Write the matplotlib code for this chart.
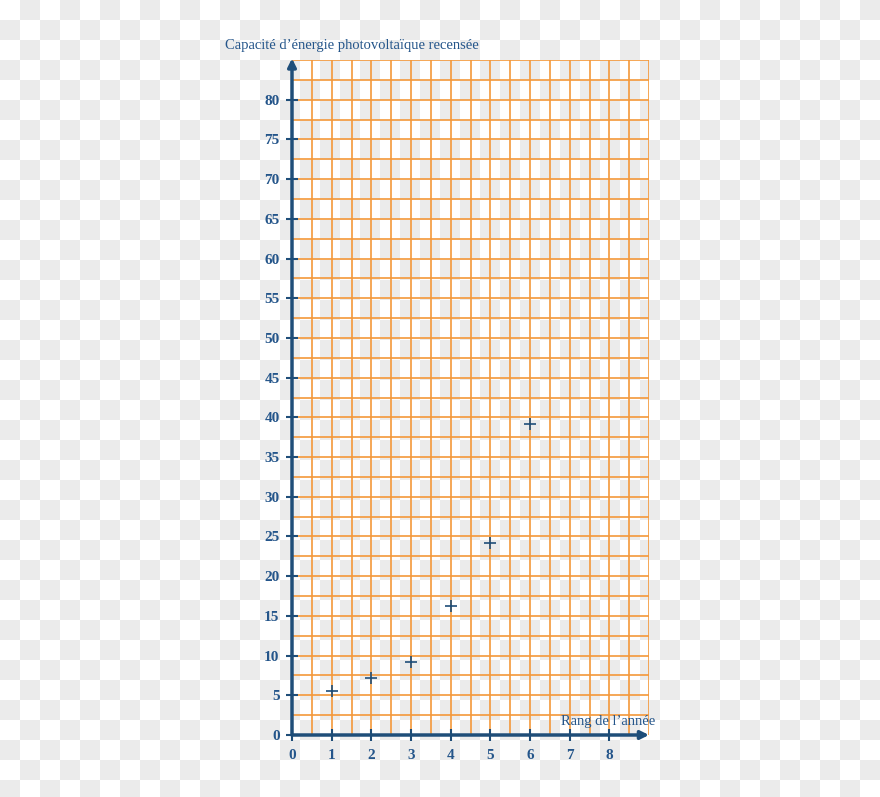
import numpy as np
import matplotlib.pyplot as plt

# données
rang = [1, 2, 3, 4, 5, 6]
capacite = [5.5, 7.2, 9.2, 16.2, 24.2, 39.2]
x_ticks = [0, 1, 2, 3, 4, 5, 6, 7, 8]
y_ticks = [0, 5, 10, 15, 20, 25, 30, 35, 40, 45, 50, 55, 60, 65, 70, 75, 80]

W, H = 880, 797
bleu = '#1f4e79'
bleu_txt = '#24558a'
orange = '#f4983a'

fig = plt.figure(figsize=(W / 100, H / 100), dpi=100)

# fond en damier (aperçu de png transparent)
jj, ii = np.meshgrid(np.arange(W) // 20, np.arange(H) // 20)
damier = np.where((ii + jj) % 2 == 1, 0.922, 1.0)
fig.figimage(np.dstack([damier] * 3), xo=0, yo=0, origin='upper', zorder=-10)

ax = fig.add_axes([292 / W, 62 / H, 357 / W, 675 / H])
ax.patch.set_alpha(0)
ax.set_xlim(0, 9)
ax.set_ylim(0, 85)

# quadrillage orange
for gx in np.arange(0.5, 9.01, 0.5):
    ax.axvline(gx, color=orange, lw=1.2, zorder=1)
for gy in np.arange(2.5, 85.01, 2.5):
    ax.axhline(gy, color=orange, lw=1.2, zorder=1)

for s in ax.spines.values():
    s.set_visible(False)

# axes fléchés
ax.annotate('', xy=(0, 85.2), xytext=(0, 0), annotation_clip=False,
            arrowprops=dict(arrowstyle='-|>', color=bleu, lw=2.5, mutation_scale=12, shrinkA=0, shrinkB=0))
ax.annotate('', xy=(9.0, 0), xytext=(0, 0), annotation_clip=False,
            arrowprops=dict(arrowstyle='-|>', color=bleu, lw=2.5, mutation_scale=12, shrinkA=0, shrinkB=0))

ax.set_xticks(x_ticks)
ax.set_yticks(y_ticks)
ax.tick_params(axis='both', colors=bleu, direction='inout', length=8, width=1.5,
               labelcolor=bleu_txt, labelsize=11)
ax.tick_params(axis='x', pad=6)
ax.tick_params(axis='y', pad=5)
for lab in ax.get_xticklabels() + ax.get_yticklabels():
    lab.set_family('Liberation Serif')
    lab.set_fontweight('bold')

ax.plot(rang, capacite, linestyle='none', marker='+', markersize=9, mew=1.2, color=bleu, zorder=3)

fig.text(225 / W, 1 - 46 / H, 'Capacité d’énergie photovoltaïque recensée', family='Liberation Serif',
         fontsize=10.5, color=bleu_txt, va='center', ha='left')
ax.text(9.15, 0.9, 'Rang de l’année', family='Liberation Serif', fontsize=10.5, color=bleu_txt,
        ha='right', va='bottom', zorder=4)

fig.savefig('out.png', dpi=100)
